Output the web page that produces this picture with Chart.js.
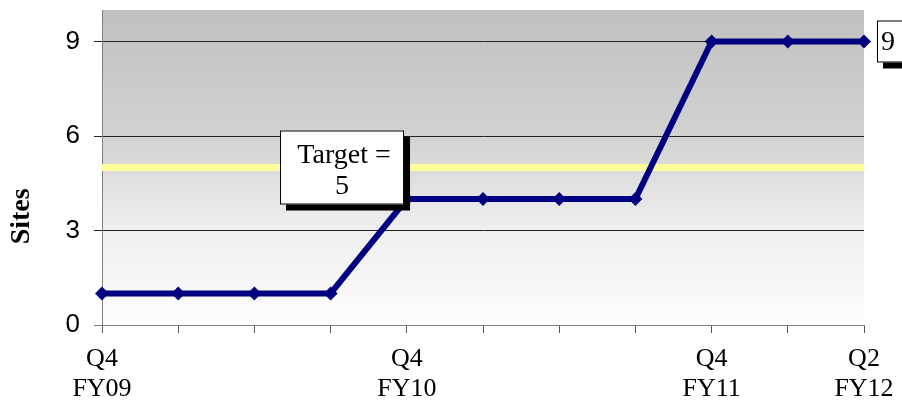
<!DOCTYPE html>
<html lang="en">
<head>
  <meta charset="UTF-8" />
  <title>Sites</title>
  <script src="https://cdn.jsdelivr.net/npm/chart.js"></script>
  <style>
    html, body { margin: 0; padding: 0; background: #fff; }
    #wrap { width: 902px; height: 400px; }
  </style>
</head>
<body>
  <div id="wrap"><canvas id="chart"></canvas></div>
  <script>
    // quarters; only some carry a visible label
    const quarters = [
      ["Q4", "FY09"], "", "", "",
      ["Q4", "FY10"], "", "", "",
      ["Q4", "FY11"], "",
      ["Q2", "FY12"]
    ];
    const sites = [1, 1, 1, 1, 4, 4, 4, 4, 9, 9, 9];
    const yTicks = [0, 3, 6, 9];
    const target = 5;
    const targetText = ["Target =", "5"];

    const serif = "'Liberation Serif', 'Times New Roman', serif";
    const sans = "'Liberation Sans', Arial, sans-serif";

    function boxWithShadow(ctx, x, y, w, h) {
      ctx.fillStyle = "#000";
      ctx.fillRect(x + 6, y + 6, w, h);
      ctx.fillStyle = "#fff";
      ctx.fillRect(x, y, w, h);
      ctx.strokeStyle = "#000";
      ctx.lineWidth = 1;
      ctx.strokeRect(x + 0.5, y + 0.5, w - 1, h - 1);
    }

    const decor = {
      id: "decor",
      beforeDraw(chart) {
        const { ctx, chartArea: a } = chart;
        const g = ctx.createLinearGradient(0, a.top, 0, a.bottom);
        g.addColorStop(0, "#c0c0c0");
        g.addColorStop(0.4, "#d2d2d2");
        g.addColorStop(0.7, "#efefef");
        g.addColorStop(1, "#fdfdfd");
        ctx.save();
        ctx.fillStyle = g;
        ctx.fillRect(a.left, a.top, a.right - a.left, a.bottom - a.top);
        ctx.restore();
      },
      beforeDatasetsDraw(chart) {
        const { ctx, chartArea: a, scales } = chart;
        const ty = scales.y.getPixelForValue(target);
        ctx.save();
        ctx.strokeStyle = "#ffff99";
        ctx.lineWidth = 7;
        ctx.beginPath();
        ctx.moveTo(a.left, ty);
        ctx.lineTo(a.right, ty);
        ctx.stroke();
        ctx.restore();
      },
      afterDatasetsDraw(chart) {
        const { ctx, scales } = chart;
        ctx.save();
        // target label box
        const cx = scales.x.getPixelForValue(3.15);
        const cy = scales.y.getPixelForValue(target);
        boxWithShadow(ctx, cx - 62, cy - 37, 124, 74);
        ctx.fillStyle = "#000";
        ctx.font = "28px " + serif;
        ctx.textAlign = "center";
        ctx.textBaseline = "middle";
        ctx.fillText(targetText[0], cx + 2, cy - 12);
        ctx.fillText(targetText[1], cx, cy + 19);

        // last value label
        const last = sites.length - 1;
        const lx = scales.x.getPixelForValue(last) + 13;
        const ly = scales.y.getPixelForValue(sites[last]);
        boxWithShadow(ctx, lx, ly - 21, 30, 42);
        ctx.fillStyle = "#000";
        ctx.textAlign = "left";
        ctx.fillText(String(sites[last]), lx + 4, ly + 1);

        // axis title
        ctx.translate(22, scales.y.getPixelForValue(3.45));
        ctx.rotate(-Math.PI / 2);
        ctx.font = "bold 28px " + serif;
        ctx.textAlign = "center";
        ctx.fillText("Sites", 0, 0);
        ctx.restore();
      }
    };

    new Chart(document.getElementById("chart"), {
      type: "line",
      data: {
        labels: quarters,
        datasets: [{
          data: sites,
          borderColor: "#000080",
          backgroundColor: "#000080",
          borderWidth: 6,
          pointStyle: "rectRot",
          pointRadius: 7,
          pointBorderWidth: 0,
          tension: 0
        }]
      },
      options: {
        responsive: true,
        maintainAspectRatio: false,
        animation: false,
        layout: { padding: { top: 10, right: 38, left: 0, bottom: 0 } },
        plugins: { legend: { display: false }, tooltip: { enabled: false } },
        scales: {
          x: {
            offset: false,
            afterFit(s) { s.height = 75; s.paddingLeft = 0; s.paddingRight = 0; },
            grid: { drawOnChartArea: false, color: "#555", tickLength: 8 },
            border: { color: "#808080" },
            ticks: {
              autoSkip: false,
              maxRotation: 0,
              color: "#000",
              font: { family: serif, size: 26, lineHeight: 1.15 },
              padding: 11
            }
          },
          y: {
            min: 0,
            max: 10,
            afterFit(s) { s.width = 102; s.paddingTop = 0; s.paddingBottom = 0; },
            afterBuildTicks(s) { s.ticks = yTicks.map(v => ({ value: v })); },
            grid: {
              color: c => (c.tick && c.tick.value === 0 ? "#808080" : "#222"),
              tickLength: 8
            },
            border: { color: "#808080" },
            ticks: {
              color: "#000",
              font: { family: sans, size: 26 },
              padding: 14
            }
          }
        }
      },
      plugins: [decor]
    });
  </script>
</body>
</html>
